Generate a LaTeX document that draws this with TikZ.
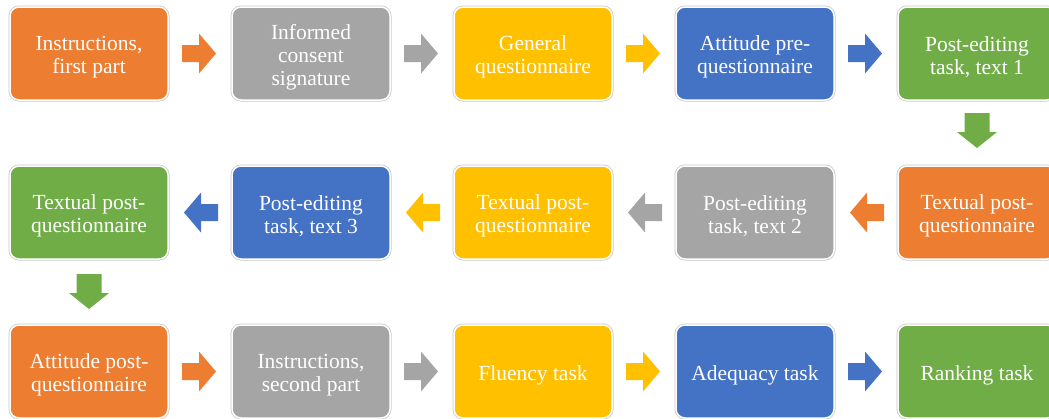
\documentclass[tikz,border=0pt]{standalone}
\usepackage{fontspec}
\setmainfont{Liberation Serif}
\usetikzlibrary{calc}
\definecolor{corange}{HTML}{ED7D31}
\definecolor{cgray}{HTML}{A5A5A5}
\definecolor{cgold}{HTML}{FFC000}
\definecolor{cblue}{HTML}{4472C4}
\definecolor{cgreen}{HTML}{70AD47}
\tikzset{
  boxtext/.style={align=center, text=white, font=\fontsize{21.5}{23}\selectfont,
    inner sep=0pt, yshift=-3.5pt},
  stepbox/.style={fill=#1, draw=white, line width=1.5pt, rounded corners=9pt,
    minimum width=158pt, minimum height=93pt, inner sep=0pt, outer sep=0pt,
    preaction={draw=black!22, line width=3pt}},
  pics/rarr/.style={code={\fill[#1] (0,-8.5) -- (17,-8.5) -- (17,-20) -- (34,0) -- (17,20) -- (17,8.5) -- (0,8.5) -- cycle;}},
  pics/larr/.style={code={\fill[#1] (0,-8.5) -- (-17,-8.5) -- (-17,-20) -- (-34,0) -- (-17,20) -- (-17,8.5) -- (0,8.5) -- cycle;}},
  pics/darr/.style={code={\fill[#1] (-12.5,0) -- (-12.5,19) -- (-20,19) -- (0,35) -- (20,19) -- (12.5,19) -- (12.5,0) -- cycle;}},
}
\begin{document}
\begin{tikzpicture}[x=1pt,y=-1pt]
\useasboundingbox (0,0) rectangle (1049,418);
\clip (0,0) rectangle (1049,418);
% row 1
\node[stepbox=corange, label={[boxtext]center:{Instructions,\\first part}}] (b11) at (89,53.5) {};
\node[stepbox=cgray,   label={[boxtext]center:{Informed\\consent\\signature}}] (b12) at (311,53.5) {};
\node[stepbox=cgold,   label={[boxtext]center:{General\\questionnaire}}] (b13) at (533,53.5) {};
\node[stepbox=cblue,   label={[boxtext]center:{Attitude pre-\\questionnaire}}] (b14) at (755,53.5) {};
\node[stepbox=cgreen,  label={[boxtext]center:{Post-editing\\task, text 1}}] (b15) at (977,53.5) {};
% row 2
\node[stepbox=cgreen,  label={[boxtext]center:{Textual post-\\questionnaire}}] (b21) at (89,212.5) {};
\node[stepbox=cblue,   label={[boxtext]center:{Post-editing\\task, text 3}}] (b22) at (311,212.5) {};
\node[stepbox=cgold,   label={[boxtext]center:{Textual post-\\questionnaire}}] (b23) at (533,212.5) {};
\node[stepbox=cgray,   label={[boxtext]center:{Post-editing\\task, text 2}}] (b24) at (755,212.5) {};
\node[stepbox=corange, label={[boxtext]center:{Textual post-\\questionnaire}}] (b25) at (977,212.5) {};
% row 3
\node[stepbox=corange, label={[boxtext]center:{Attitude post-\\questionnaire}}] (b31) at (89,371.5) {};
\node[stepbox=cgray,   label={[boxtext]center:{Instructions,\\second part}}] (b32) at (311,371.5) {};
\node[stepbox=cgold,   label={[boxtext]center:{Fluency task}}] (b33) at (533,371.5) {};
\node[stepbox=cblue,   label={[boxtext]center:{Adequacy task}}] (b34) at (755,371.5) {};
\node[stepbox=cgreen,  label={[boxtext]center:{Ranking task}}] (b35) at (977,371.5) {};
% arrows row 1
\pic at ($(b11.east)+(14,0)$) {rarr=corange};
\pic at ($(b12.east)+(14,0)$) {rarr=cgray};
\pic at ($(b13.east)+(14,0)$) {rarr=cgold};
\pic at ($(b14.east)+(14,0)$) {rarr=cblue};
\pic at ($(b15.south)+(0,13)$) {darr=cgreen};
% arrows row 2
\pic at ($(b25.west)+(-14,0)$) {larr=corange};
\pic at ($(b24.west)+(-14,0)$) {larr=cgray};
\pic at ($(b23.west)+(-14,0)$) {larr=cgold};
\pic at ($(b22.west)+(-14,0)$) {larr=cblue};
\pic at ($(b21.south)+(0,15)$) {darr=cgreen};
% arrows row 3
\pic at ($(b31.east)+(14,0)$) {rarr=corange};
\pic at ($(b32.east)+(14,0)$) {rarr=cgray};
\pic at ($(b33.east)+(14,0)$) {rarr=cgold};
\pic at ($(b34.east)+(14,0)$) {rarr=cblue};
\end{tikzpicture}
\end{document}
